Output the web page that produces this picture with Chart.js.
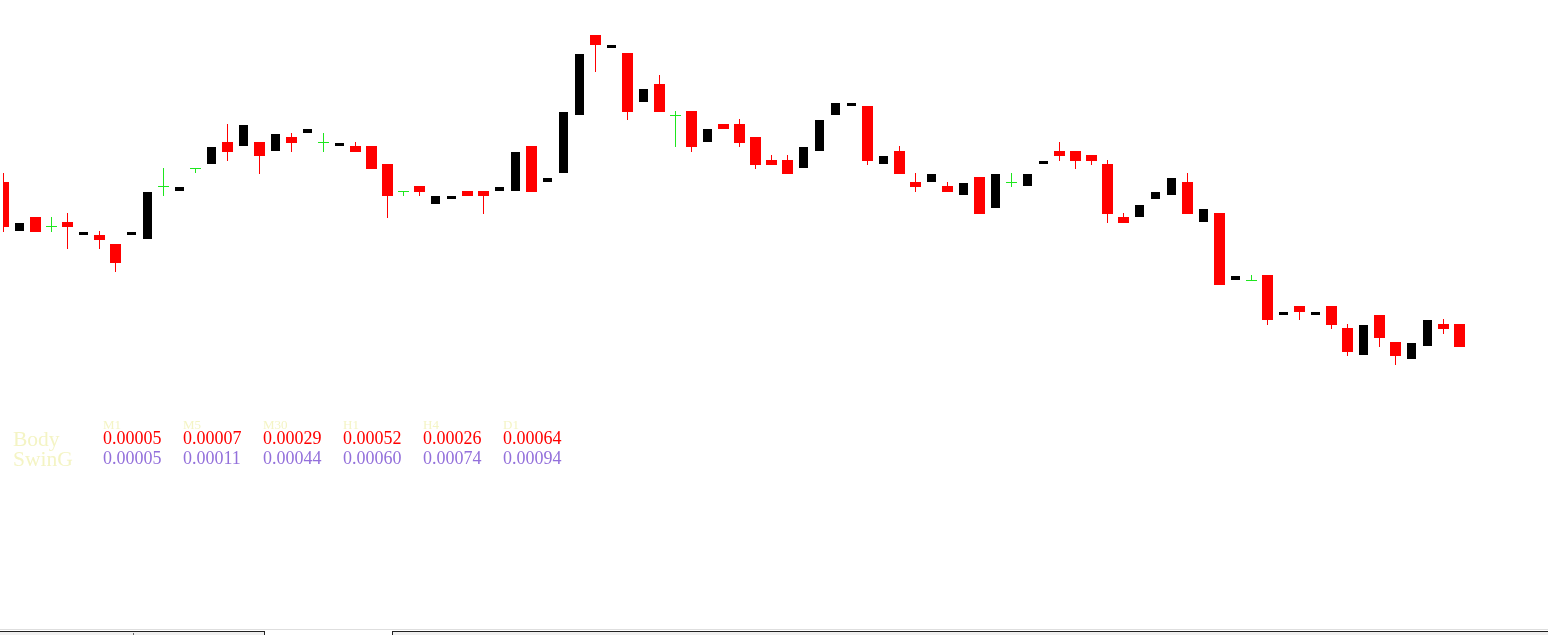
<!DOCTYPE html>
<html>
<head>
<meta charset="utf-8">
<script src="https://cdn.jsdelivr.net/npm/chart.js@4/dist/chart.umd.min.js"></script>
<style>
  html, body { margin: 0; padding: 0; background: #fff; }
  #wrap { position: relative; width: 1548px; height: 635px; overflow: hidden; }
  #chart { position: absolute; left: 0; top: 0; }
  .t { position: absolute; white-space: nowrap; font-family: "Liberation Serif", "Times New Roman", serif; line-height: 1; }
  .hd { font-size: 13px; color: #f4f4c4; }
  .lbl { font-size: 21.5px; color: #f4f4c4; }
  .v { font-size: 18px; }
  .body { color: #ff0000; }
  .swing { color: #9370db; }
  .bar { position: absolute; }
</style>
</head>
<body>
<div id="wrap">
  <canvas id="chart" width="1548" height="635"></canvas>
  <div id="table"></div>
  <!-- terminal tab strip along the bottom -->
  <div class="bar" style="left:0;top:629px;width:1548px;height:1px;background:#dedede"></div>
  <div class="bar" style="left:0;top:631px;width:265px;height:4px;background:#f0f0f0;border-top:1px solid #222;border-right:1px solid #222;box-sizing:border-box"></div>
  <div class="bar" style="left:133px;top:633px;width:1px;height:2px;background:#666"></div>
  <div class="bar" style="left:392px;top:631px;width:1156px;height:4px;background:#f0f0f0;border-top:1px solid #222;border-left:1px solid #222;box-sizing:border-box"></div>
</div>
<script>
// candle prices, one entry per bar (oldest first)
const opens = [1.08818,1.08768,1.08783,1.08773,1.08778,1.08764,1.08765,1.08756,1.08764,1.08760,
  1.08813,1.08808,1.08831,1.08835,1.08858,1.08853,1.08858,1.08848,1.08863,1.08866,
  1.08857,1.08853,1.08854,1.08854,1.08836,1.08808,1.08814,1.08795,1.08800,1.08809,
  1.08809,1.08808,1.08808,1.08854,1.08817,1.08826,1.08884,1.08965,1.08951,1.08947,
  1.08897,1.08916,1.08884,1.08889,1.08857,1.08876,1.08876,1.08863,1.08840,1.08840,
  1.08831,1.08848,1.08884,1.08893,1.08894,1.08835,1.08849,1.08818,1.08817,1.08814,
  1.08804,1.08823,1.08791,1.08817,1.08813,1.08835,1.08849,1.08849,1.08845,1.08836,
  1.08783,1.08782,1.08800,1.08804,1.08818,1.08777,1.08787,1.08719,1.08719,1.08725,
  1.08684,1.08694,1.08684,1.08694,1.08672,1.08644,1.08685,1.08658,1.08640,1.08653,
  1.08676,1.08676];
const highs = [1.08827,1.08778,1.08783,1.08783,1.08787,1.08769,1.08769,1.08756,1.08769,1.08809,
  1.08832,1.08814,1.08832,1.08854,1.08876,1.08876,1.08858,1.08867,1.08867,1.08872,
  1.08867,1.08858,1.08858,1.08854,1.08836,1.08809,1.08814,1.08805,1.08805,1.08809,
  1.08809,1.08814,1.08849,1.08854,1.08823,1.08889,1.08947,1.08965,1.08956,1.08947,
  1.08912,1.08925,1.08889,1.08889,1.08872,1.08876,1.08881,1.08863,1.08845,1.08845,
  1.08854,1.08881,1.08898,1.08898,1.08894,1.08845,1.08854,1.08827,1.08827,1.08818,
  1.08818,1.08823,1.08827,1.08827,1.08827,1.08840,1.08858,1.08849,1.08845,1.08840,
  1.08787,1.08796,1.08809,1.08823,1.08827,1.08792,1.08787,1.08725,1.08725,1.08725,
  1.08689,1.08694,1.08689,1.08694,1.08676,1.08676,1.08685,1.08658,1.08658,1.08681,
  1.08681,1.08676];
const lows = [1.08768,1.08768,1.08768,1.08768,1.08751,1.08764,1.08751,1.08728,1.08764,1.08760,
  1.08804,1.08808,1.08827,1.08835,1.08839,1.08853,1.08826,1.08848,1.08848,1.08866,
  1.08848,1.08853,1.08848,1.08831,1.08782,1.08804,1.08804,1.08795,1.08800,1.08804,
  1.08786,1.08808,1.08808,1.08808,1.08817,1.08826,1.08884,1.08928,1.08951,1.08880,
  1.08897,1.08888,1.08853,1.08848,1.08857,1.08871,1.08853,1.08831,1.08835,1.08826,
  1.08831,1.08848,1.08884,1.08893,1.08835,1.08835,1.08826,1.08808,1.08817,1.08808,
  1.08804,1.08786,1.08791,1.08813,1.08813,1.08835,1.08839,1.08831,1.08835,1.08777,
  1.08777,1.08782,1.08800,1.08804,1.08786,1.08777,1.08715,1.08719,1.08719,1.08675,
  1.08684,1.08680,1.08684,1.08671,1.08644,1.08644,1.08653,1.08635,1.08640,1.08653,
  1.08666,1.08653];
const closes = [1.08773,1.08778,1.08768,1.08773,1.08773,1.08769,1.08760,1.08737,1.08769,1.08809,
  1.08813,1.08814,1.08831,1.08854,1.08848,1.08876,1.08844,1.08867,1.08857,1.08872,
  1.08857,1.08858,1.08848,1.08831,1.08804,1.08808,1.08808,1.08805,1.08805,1.08804,
  1.08804,1.08814,1.08849,1.08808,1.08823,1.08889,1.08947,1.08955,1.08956,1.08888,
  1.08912,1.08888,1.08884,1.08853,1.08872,1.08871,1.08857,1.08835,1.08835,1.08826,
  1.08854,1.08881,1.08898,1.08898,1.08839,1.08845,1.08826,1.08813,1.08827,1.08808,
  1.08818,1.08786,1.08827,1.08817,1.08827,1.08840,1.08844,1.08839,1.08839,1.08786,
  1.08777,1.08796,1.08809,1.08823,1.08786,1.08792,1.08715,1.08725,1.08719,1.08680,
  1.08689,1.08688,1.08689,1.08675,1.08648,1.08676,1.08662,1.08644,1.08658,1.08681,
  1.08671,1.08653];

// info table
const timeframes = ['M1', 'M5', 'M30', 'H1', 'H4', 'D1'];
const bodyValues = ['0.00005', '0.00007', '0.00029', '0.00052', '0.00026', '0.00064'];
const swingValues = ['0.00005', '0.00011', '0.00044', '0.00060', '0.00074', '0.00094'];

const BULL = '#000000', BEAR = '#ff0000', DOJI = '#1ee61e';

function candleColor(i) {
  if (closes[i] > opens[i]) return BULL;
  if (closes[i] < opens[i]) return BEAR;
  return DOJI;
}

const idx = opens.map((_, i) => i);

const wickData = idx.map(i => ({ x: i, y: [lows[i], highs[i]] }));
const bodyData = idx.map(i => ({ x: i, y: [opens[i], closes[i]] }));
// bull wicks are white on this chart (invisible)
const wickColors = idx.map(i => candleColor(i) === BULL ? '#ffffff' : candleColor(i));
const bodyColors = idx.map(i => candleColor(i));
const bodyBorders = idx.map(i => candleColor(i) === BULL ? '#ffffff' : candleColor(i));

const plotLeft = 3;
const xMin = -1 / 32;
const xMax = xMin + (1548 - plotLeft) / 16;

new Chart(document.getElementById('chart'), {
  type: 'bar',
  data: {
    datasets: [
      {
        label: 'wicks',
        data: wickData,
        backgroundColor: wickColors,
        borderWidth: 0,
        barThickness: 1,
        grouped: false,
        inflateAmount: 0,
        clip: 0,
        order: 2
      },
      {
        label: 'bodies',
        data: bodyData,
        backgroundColor: bodyColors,
        borderColor: bodyBorders,
        borderWidth: 1,
        borderSkipped: false,
        barThickness: 11,
        minBarLength: 1,
        grouped: false,
        inflateAmount: 0,
        clip: 0,
        order: 1
      }
    ]
  },
  options: {
    responsive: false,
    animation: false,
    events: [],
    layout: { padding: { left: plotLeft, right: 0, top: 0, bottom: 0 } },
    plugins: { legend: { display: false }, tooltip: { enabled: false } },
    scales: {
      x: { type: 'linear', min: xMin, max: xMax, offset: false, display: false },
      y: { type: 'linear', min: 1.08365, max: 1.09, beginAtZero: false, display: false }
    }
  }
});

// text block under the chart
function addText(cls, txt, x, baseline, size) {
  const el = document.createElement('div');
  el.className = 't ' + cls;
  el.textContent = txt;
  el.style.left = x + 'px';
  el.style.top = (baseline - size * 0.8375) + 'px';
  document.getElementById('table').appendChild(el);
}

addText('lbl', 'Body', 13, 447.3, 21.5);
addText('lbl', 'SwinG', 13, 467.5, 21.5);
timeframes.forEach((tf, k) => {
  const x = 103 + k * 80;
  addText('hd', tf, x, 429, 13);
  addText('v body', bodyValues[k], x, 444.3, 18);
  addText('v swing', swingValues[k], x, 464.2, 18);
});
</script>
</body>
</html>
